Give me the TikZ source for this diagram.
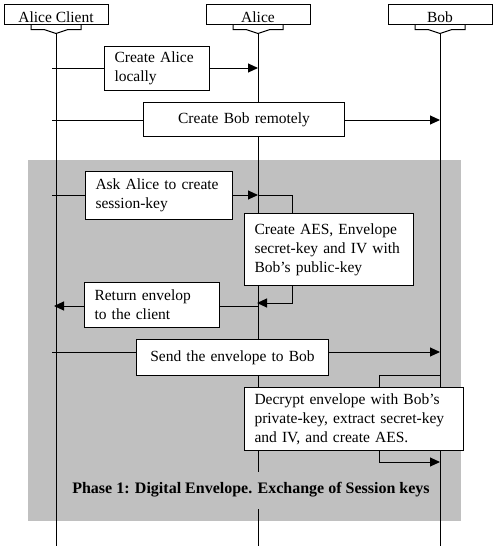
\documentclass[tikz,border=0pt]{standalone}
\usepackage{fontspec}
\setmainfont{Liberation Serif}
\usetikzlibrary{arrows.meta,positioning}
\tikzset{actor box/.style={draw=black, fill=white, minimum width=104pt, minimum height=20pt, inner sep=0pt, text height=18pt, text depth=0pt}}
\tikzset{msg box/.style={draw=black, fill=white, anchor=north west, inner xsep=10pt, inner ysep=0pt, align=left}}
\tikzset{msg line/.style={-{Triangle[length=10pt,width=9pt]}}}
\definecolor{phaseGray}{HTML}{C0C0C0}
\newcommand{\funnel}[1]{\draw ([xshift=-25pt]#1.south) -- ++(0,5) -- ++(13,0) -- ++(12,4) coordinate (#1 tip) -- ++(12,-4) -- ++(13,0) -- ++(0,-5);}

\begin{document}
\begin{tikzpicture}[x=1pt, y=-1pt, line width=1pt, font=\fontsize{15.5}{19}\selectfont]
	\useasboundingbox (0,0) rectangle (498,546);
	% phase 1 area
	\fill[phaseGray] (28,160) rectangle (461,521);
	% actors and lifelines
	\node[actor box] at (56,14) (client) {Alice Client};
	\node[actor box] at (258,14) (alice) {Alice};
	\node[actor box] at (440,14) (bob) {Bob};
	\funnel{client} \funnel{alice} \funnel{bob}
	\coordinate (client end) at (56,546);
	\coordinate (alice end) at (258,546);
	\coordinate (bob end) at (440,546);
	\draw (client tip) -- (client end);
	\draw (alice tip) -- (alice end);
	\draw (bob tip) -- (bob end);
	% message ends
	\coordinate (m1 from) at (52,68);   \coordinate (m1 to) at (258,68);
	\coordinate (m2 from) at (52,120);  \coordinate (m2 to) at (440,120);
	\coordinate (m3 from) at (52,195);  \coordinate (m3 to) at (258,195);
	\coordinate (alice loop) at (292,303); \coordinate (m3 back) at (257,303);
	\coordinate (m4 from) at (258,306); \coordinate (m4 to) at (54,306);
	\coordinate (m5 from) at (52,352);  \coordinate (m5 to) at (440,352);
	\coordinate (m6 from) at (440,375); \coordinate (bob loop) at (379,462);
	\coordinate (m6 to) at (440,462);
	\draw[msg line] (m1 from) -- (m1 to);
	\draw[msg line] (m2 from) -- (m2 to);
	\draw[msg line] (m3 from) -- (m3 to);
	\draw[msg line] (m3 to) -| (alice loop) -- (m3 back);
	\draw[msg line] (m4 from) -- (m4 to);
	\draw[msg line] (m5 from) -- (m5 to);
	\draw[msg line] (m6 from) -| (bob loop) -- (m6 to);
	% message boxes
	\node[msg box, text width=85pt, minimum height=44pt] at (104,46) (create alice) {Create Alice\\locally};
	\node[msg box, align=center, text width=181pt, minimum height=34pt] at (143,102) (create bob) {Create Bob remotely};
	\node[msg box, text width=127pt, minimum height=48pt] at (85,171) (ask alice) {Ask Alice to create\\session-key};
	\node[msg box, text width=149pt, minimum height=72pt] at (244,213) (create aes) {Create AES, Envelope\\secret-key and IV with\\Bob's public-key};
	\node[msg box, text width=115pt, minimum height=45pt] at (84,282) (return env) {Return envelop\\to the client};
	\node[msg box, align=center, text width=172pt, minimum height=36pt] at (136,339) (send env) {Send the envelope to Bob};
	\node[msg box, text width=199pt, minimum height=63pt] at (244,387) (decrypt) {Decrypt envelope with Bob's\\private-key, extract secret-key\\and IV, and create AES.};
	\node[fill=phaseGray, font=\fontsize{16}{19}\selectfont\bfseries, inner xsep=2pt, minimum height=37pt] at (251,490) (phase title) {Phase 1: Digital Envelope. Exchange of Session keys};
\end{tikzpicture}
\end{document}
